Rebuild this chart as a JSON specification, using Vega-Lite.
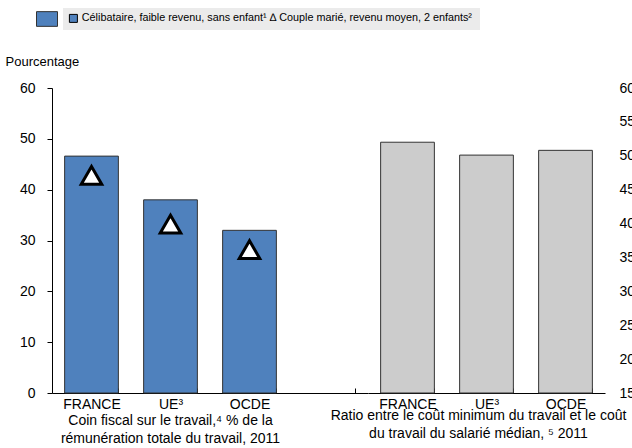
{
  "$schema": "https://vega.github.io/schema/vega-lite/v6.json",
  "padding": {"left": 5, "top": 8, "right": 0, "bottom": 0},
  "spacing": 0,
  "bounds": "flush",
  "config": {
    "view": {"stroke": null},
    "font": "Liberation Sans",
    "axis": {"grid": false, "domainColor": "#000", "tickColor": "#000", "labelColor": "#000", "titleColor": "#000", "labelFont": "Liberation Sans", "titleFont": "Liberation Sans", "labelFontSize": 14, "titleFontSize": 14, "titleFontWeight": "normal"},
    "legend": {"labelFont": "Liberation Sans", "labelColor": "#000"}
  },
  "hconcat": [
    {
      "width": 316,
      "height": 305,
      "data": {"values": [
        {"pays": "FRANCE", "celib": 46.6, "couple": 42.8, "menage": "Couple marié, revenu moyen, 2 enfants"},
        {"pays": "UE³", "celib": 38.0, "couple": 33.2, "menage": "Couple marié, revenu moyen, 2 enfants"},
        {"pays": "OCDE", "celib": 32.0, "couple": 28.2, "menage": "Couple marié, revenu moyen, 2 enfants"}
      ]},
      "encoding": {
        "x": {"field": "pays", "type": "nominal",
          "scale": {"domain": ["FRANCE", "UE³", "OCDE", "-"], "paddingInner": 0.32, "paddingOuter": 0.16},
          "axis": {"title": ["Coin fiscal  sur le travail,⁴ % de la", "rémunération totale  du travail, 2011"], "titleX": 118, "titleY": 20, "titleLineHeight": 18, "labelAngle": 0, "tickBand": "extent", "tickSize": -5, "labelPadding": 9, "labelExpr": "datum.value == '-' ? '' : datum.label"}}
      },
      "layer": [
        {
          "mark": {"type": "bar", "stroke": "#333", "strokeWidth": 1},
          "encoding": {
            "y": {"field": "celib", "type": "quantitative", "scale": {"domain": [0, 60]},
              "axis": {"title": "Pourcentage", "titleAngle": 0, "titleAlign": "left", "titleBaseline": "alphabetic", "titleX": -47, "titleY": -23, "titleFontSize": 13, "values": [0, 10, 20, 30, 40, 50, 60], "tickSize": 5, "labelPadding": 12}},
            "color": {"datum": "Célibataire", "type": "nominal", "scale": {"range": ["#4f81bd"]},
              "legend": {"orient": "none", "legendX": -16, "legendY": -80, "title": null, "labelExpr": "''", "symbolType": "M-1,-0.7H1V0.7H-1Z", "symbolSize": 441, "symbolStrokeColor": "#333", "symbolStrokeWidth": 1, "padding": 0, "labelOffset": 0, "symbolOpacity": 1}}
          }
        },
        {
          "mark": {"type": "point", "shape": "triangle-up", "filled": true, "strokeWidth": 3, "size": 420, "opacity": 1},
          "encoding": {
            "y": {"field": "couple", "type": "quantitative"},
            "fill": {"field": "menage", "type": "nominal", "scale": {"range": ["white"]}, "legend": null},
            "stroke": {"datum": "Couple", "type": "nominal", "scale": {"range": ["black"]},
              "legend": {"orient": "none", "legendX": 11, "legendY": -80, "title": null, "labelLimit": 600, "labelFontSize": 10.8, "fillColor": "#ebebeb", "padding": 5, "symbolType": "square", "symbolFillColor": "#4f81bd", "symbolStrokeColor": "#333", "symbolStrokeWidth": 1, "symbolSize": 64, "symbolOpacity": 1, "labelOffset": 3,
                "labelExpr": "'Célibataire, faible revenu, sans enfant¹  ∆ Couple marié, revenu moyen, 2 enfants²'"}}
          }
        }
      ]
    },
    {
      "width": 237,
      "height": 305,
      "data": {"values": [
        {"pays": "FRANCE", "ratio": 52.0},
        {"pays": "UE³", "ratio": 50.1},
        {"pays": "OCDE", "ratio": 50.8}
      ]},
      "mark": {"type": "bar", "color": "#cccccc", "stroke": "#333", "strokeWidth": 1},
      "encoding": {
        "x": {"field": "pays", "type": "nominal",
          "scale": {"domain": ["FRANCE", "UE³", "OCDE"], "paddingInner": 0.32, "paddingOuter": 0.16},
          "axis": {"title": ["Ratio entre le coût  minimum  du travail et le coût", "du travail du salarié  médian, ⁵ 2011"], "titleX": 110, "titleY": 15, "titleLineHeight": 18, "labelAngle": 0, "tickBand": "extent", "tickSize": -5, "labelPadding": 9}},
        "y": {"field": "ratio", "type": "quantitative", "scale": {"domain": [15, 60], "zero": false},
          "axis": {"orient": "right", "title": null, "values": [15, 20, 25, 30, 35, 40, 45, 50, 55, 60], "domain": false, "ticks": false, "labelPadding": 14}},
        "y2": {"datum": 15}
      }
    }
  ]
}
